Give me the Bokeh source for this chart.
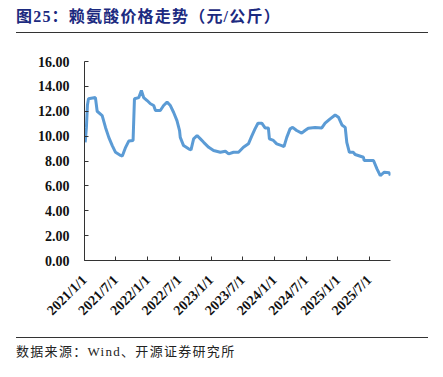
import math
import pandas as pd
from bokeh.plotting import figure
from bokeh.models import Range1d, FixedTicker, Div, ColumnDataSource
from bokeh.layouts import column
from bokeh.embed import file_html
from bokeh.resources import INLINE

# ---- data ----
dates = [
    "2021-01-05", "2021-01-12", "2021-01-18", "2021-01-24", "2021-03-05", "2021-03-15",
    "2021-04-13", "2021-05-02", "2021-05-21", "2021-06-10", "2021-06-29", "2021-07-28",
    "2021-08-07", "2021-08-26", "2021-09-13", "2021-10-08", "2021-10-16", "2021-11-10",
    "2021-11-25", "2021-12-08", "2021-12-28", "2022-01-16", "2022-02-04", "2022-02-14",
    "2022-03-14", "2022-04-02", "2022-04-22", "2022-05-11", "2022-05-30", "2022-06-18",
    "2022-07-03", "2022-07-07", "2022-07-26", "2022-08-24", "2022-09-07", "2022-09-22",
    "2022-10-12", "2022-10-31", "2022-11-19", "2022-12-18", "2023-01-15", "2023-02-23",
    "2023-03-24", "2023-04-12", "2023-05-10", "2023-06-08", "2023-07-06", "2023-08-04",
    "2023-08-23", "2023-09-11", "2023-09-28", "2023-10-20", "2023-11-08", "2023-11-27",
    "2023-12-03", "2023-12-26", "2024-01-14", "2024-02-12", "2024-02-25", "2024-03-12",
    "2024-03-31", "2024-04-15", "2024-05-08", "2024-06-06", "2024-06-25", "2024-07-14",
    "2024-08-22", "2024-09-30", "2024-10-19", "2024-11-17", "2024-12-16", "2025-01-04",
    "2025-01-24", "2025-02-12", "2025-02-21", "2025-03-08", "2025-03-31", "2025-04-10",
    "2025-05-28", "2025-06-01", "2025-07-25", "2025-08-14", "2025-09-02", "2025-09-25",
    "2025-10-24", "2025-10-30",
]
prices = [
    9.5, 10.7, 12.5, 13.0, 13.1, 12.0,
    11.65, 10.7, 9.9, 9.24, 8.7, 8.45,
    8.4, 9.1, 9.6, 9.65, 13.0, 13.1,
    13.67, 13.1, 12.86, 12.6, 12.46, 12.06,
    12.06, 12.46, 12.73, 12.46, 11.9, 11.25,
    10.45, 9.9, 9.24, 8.98, 8.9, 9.78,
    10.05, 9.78, 9.5, 9.1, 8.84, 8.7,
    8.78, 8.57, 8.7, 8.7, 9.1, 9.38,
    10.0, 10.58, 11.04, 11.04, 10.66, 10.66,
    9.78, 9.65, 9.38, 9.24, 9.16, 9.9,
    10.58, 10.7, 10.45, 10.24, 10.45, 10.64,
    10.7, 10.66, 11.04, 11.39, 11.7, 11.52,
    10.9, 10.7, 9.5, 8.7, 8.7, 8.52,
    8.3, 8.04, 8.04, 7.37, 6.83, 7.1,
    7.05, 6.83,
]
tick_dates = ["2021-01-01", "2021-07-01", "2022-01-01", "2022-07-01", "2023-01-01",
              "2023-07-01", "2024-01-01", "2024-07-01", "2025-01-01", "2025-07-01"]
tick_labels = ["2021/1/1", "2021/7/1", "2022/1/1", "2022/7/1", "2023/1/1",
               "2023/7/1", "2024/1/1", "2024/7/1", "2025/1/1", "2025/7/1"]
y_ticks = [0, 2, 4, 6, 8, 10, 12, 14, 16]
y_labels = ["0.00", "2.00", "4.00", "6.00", "8.00", "10.00", "12.00", "14.00", "16.00"]

title_text = "图25：赖氨酸价格走势（元/公斤）"
source_text = "数据来源：Wind、开源证券研究所"


def to_ms(s):
    return int(pd.Timestamp(s).value // 10**6)


src = ColumnDataSource(dict(x=pd.to_datetime(dates), y=prices))

p = figure(width=443, height=294, x_axis_type="datetime",
           x_range=Range1d(to_ms("2021-01-01"), to_ms("2025-10-31")),
           y_range=Range1d(0, 16),
           output_backend="svg", toolbar_location=None,
           min_border_left=84, min_border_right=53,
           min_border_top=25, min_border_bottom=70)
p.outline_line_color = None
p.xgrid.visible = False
p.ygrid.visible = False
p.background_fill_color = "white"
p.border_fill_color = "white"

p.line("x", "y", source=src, line_color="#5B9BD5", line_width=3)

tick_ms = [to_ms(d) for d in tick_dates]
p.xaxis.ticker = FixedTicker(ticks=tick_ms)
p.xaxis.major_label_overrides = {t: l for t, l in zip(tick_ms, tick_labels)}
p.xaxis.major_label_orientation = math.pi / 4
p.yaxis.ticker = FixedTicker(ticks=y_ticks)
p.yaxis.major_label_overrides = {t: l for t, l in zip(y_ticks, y_labels)}

for ax in (p.xaxis[0], p.yaxis[0]):
    ax.axis_line_color = "#333333"
    ax.axis_line_width = 1
    ax.major_tick_line_color = "#333333"
    ax.major_tick_in = 4
    ax.major_tick_out = 0
    ax.minor_tick_line_color = None
    ax.major_label_text_font = "Liberation Serif"
    ax.major_label_text_font_style = "bold"
    ax.major_label_text_font_size = "14px"
    ax.major_label_text_color = "#111111"

p.yaxis.major_label_standoff = 15
p.xaxis.major_label_standoff = 17

title_div = Div(
    text=('<div style="margin-left:16px;width:412px;height:33px;line-height:34px;'
          'border-bottom:1.5px solid #333;font-family:\'Liberation Serif\',\'Noto Sans CJK SC\';'
          'font-weight:bold;font-size:16px;letter-spacing:1.2px;color:#1c2a80;white-space:nowrap;">'
          + title_text + '</div>'),
    width=443, height=36, margin=0)

src_div = Div(
    text=('<div style="margin-left:16px;width:412px;margin-top:7px;'
          'border-top:1.5px solid #333;padding-top:6px;line-height:16px;'
          'font-family:\'Liberation Serif\',\'Noto Sans CJK SC\';font-size:13px;'
          'letter-spacing:1.3px;color:#222;white-space:nowrap;">'
          + source_text + '</div>'),
    width=443, height=47, margin=0)

layout = column(title_div, p, src_div, spacing=0, margin=0)

open("out.html", "w").write(file_html(layout, INLINE))
